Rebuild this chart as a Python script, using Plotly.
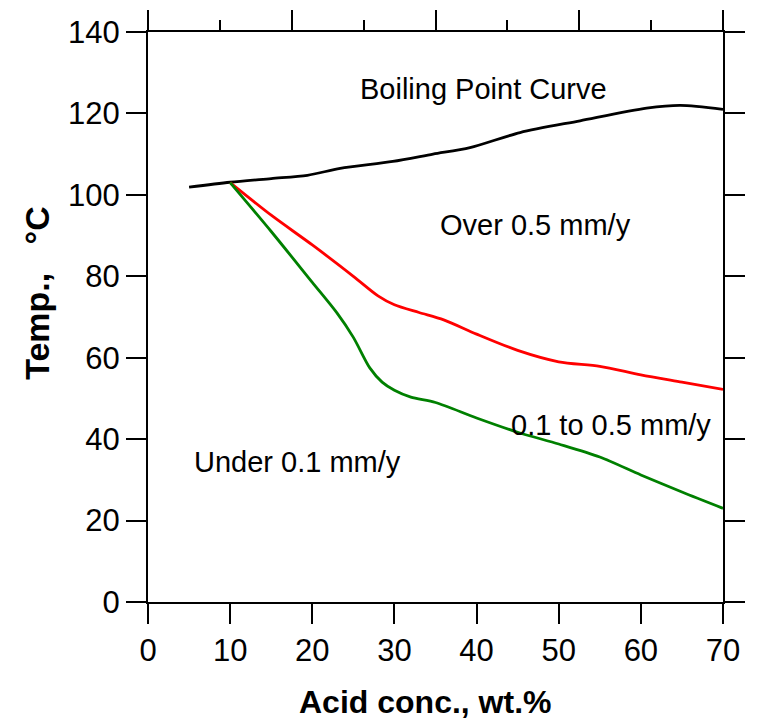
import plotly.graph_objects as go

# Data
boil_x = [5, 10, 15, 19.4, 23.4, 29.8, 34.7, 39.2, 45.3, 52.6, 60.7, 64.8, 70]
boil_y = [101.9, 103.1, 104, 104.8, 106.5, 108.2, 110, 111.6, 115.3, 118.2, 121.3, 122, 121]

red_x = [10, 15, 20, 25, 28, 30, 33, 36, 40, 45, 50, 55, 60, 65, 70]
red_y = [103, 95, 87.7, 80, 75.2, 73, 71.1, 69.3, 65.8, 61.8, 59, 57.9, 55.8, 54, 52.2]

green_x = [10, 15, 20, 23, 25, 27, 28.5, 30, 32, 35, 40, 45, 50, 55, 60, 65, 70]
green_y = [103, 91, 78.5, 71, 65, 57.5, 54, 52, 50.3, 49, 45.2, 41.7, 38.8, 35.6, 31.2, 27, 23]

x_ticks = [0, 10, 20, 30, 40, 50, 60, 70]
y_ticks = [0, 20, 40, 60, 80, 100, 120, 140]
top_major = [0, 17.5, 35, 52.5, 70]
top_minor = [8.75, 26.25, 43.75, 61.25]

labels = ["Boiling Point Curve", "Over 0.5 mm/y", "Under 0.1 mm/y", "0.1 to 0.5 mm/y"]
label_x = [40.8, 47.2, 18.2, 56.4]
label_y = [126, 92.7, 34.5, 43.4]

x_title = "<b>Acid conc., wt.%</b>"
y_title = "<b>Temp.,\u00a0\u00a0\u00a0°C</b>"

FONT = "Liberation Sans, Arial, sans-serif"
W, H = 763, 720
L, R, T, B = 148, 40, 25, 118

fig = go.Figure()
fig.add_trace(go.Scatter(x=boil_x, y=boil_y, mode="lines", line=dict(color="black", width=2.8, shape="spline", smoothing=0.8), hoverinfo="skip"))
fig.add_trace(go.Scatter(x=red_x, y=red_y, mode="lines", line=dict(color="#ff0000", width=2.8, shape="spline", smoothing=0.8), hoverinfo="skip"))
fig.add_trace(go.Scatter(x=green_x, y=green_y, mode="lines", line=dict(color="#008000", width=2.8, shape="spline", smoothing=0.8), hoverinfo="skip"))
# invisible trace to anchor the top axis
fig.add_trace(go.Scatter(x=[0, 70], y=[0, 0], xaxis="x2", mode="lines", line=dict(width=0), opacity=0, hoverinfo="skip"))

for t, xx, yy in zip(labels, label_x, label_y):
    fig.add_annotation(x=xx, y=yy, text=t, showarrow=False, font=dict(family=FONT, size=29, color="black"))

# axis titles as annotations (positioned in paper coords)
pw, ph = W - L - R, H - T - B
fig.add_annotation(xref="paper", yref="paper", x=(425 - L) / pw, y=(H - B - 703) / ph,
                   xanchor="center", yanchor="middle",
                   text=x_title, showarrow=False, font=dict(family=FONT, size=32, color="black"))
fig.add_annotation(xref="paper", yref="paper", x=(37 - L) / pw, y=(H - B - 289) / ph,
                   xanchor="center", yanchor="middle",
                   text=y_title, textangle=-90, showarrow=False, font=dict(family=FONT, size=34, color="black"))

fig.update_layout(
    width=W, height=H,
    margin=dict(l=L, r=R, t=T, b=B),
    paper_bgcolor="white", plot_bgcolor="white",
    showlegend=False,
    font=dict(family=FONT, size=29, color="black"),
    xaxis=dict(
        range=[0, 70], tickvals=x_ticks, ticktext=[str(v) for v in x_ticks],
        ticks="outside", ticklen=20, tickwidth=2, tickcolor="black",
        showline=True, linewidth=2, linecolor="black", showgrid=False, zeroline=False,
        tickfont=dict(family=FONT, size=31),
    ),
    xaxis2=dict(
        range=[0, 70], overlaying="x", side="top", tickvals=top_major,
        ticks="outside", ticklen=20, tickwidth=2, tickcolor="black",
        minor=dict(tickvals=top_minor, ticks="outside", ticklen=10, tickwidth=2, tickcolor="black"),
        showticklabels=False, showline=True, linewidth=2, linecolor="black",
        showgrid=False, zeroline=False,
    ),
    yaxis=dict(
        range=[0, 140], tickvals=y_ticks, ticktext=[str(v) for v in y_ticks],
        ticks="outside", ticklen=20, tickwidth=2, tickcolor="black",
        showline=True, linewidth=2, linecolor="black", mirror="ticks",
        showgrid=False, zeroline=False,
        tickfont=dict(family=FONT, size=31),
    ),
)

fig.write_html("out.html")
